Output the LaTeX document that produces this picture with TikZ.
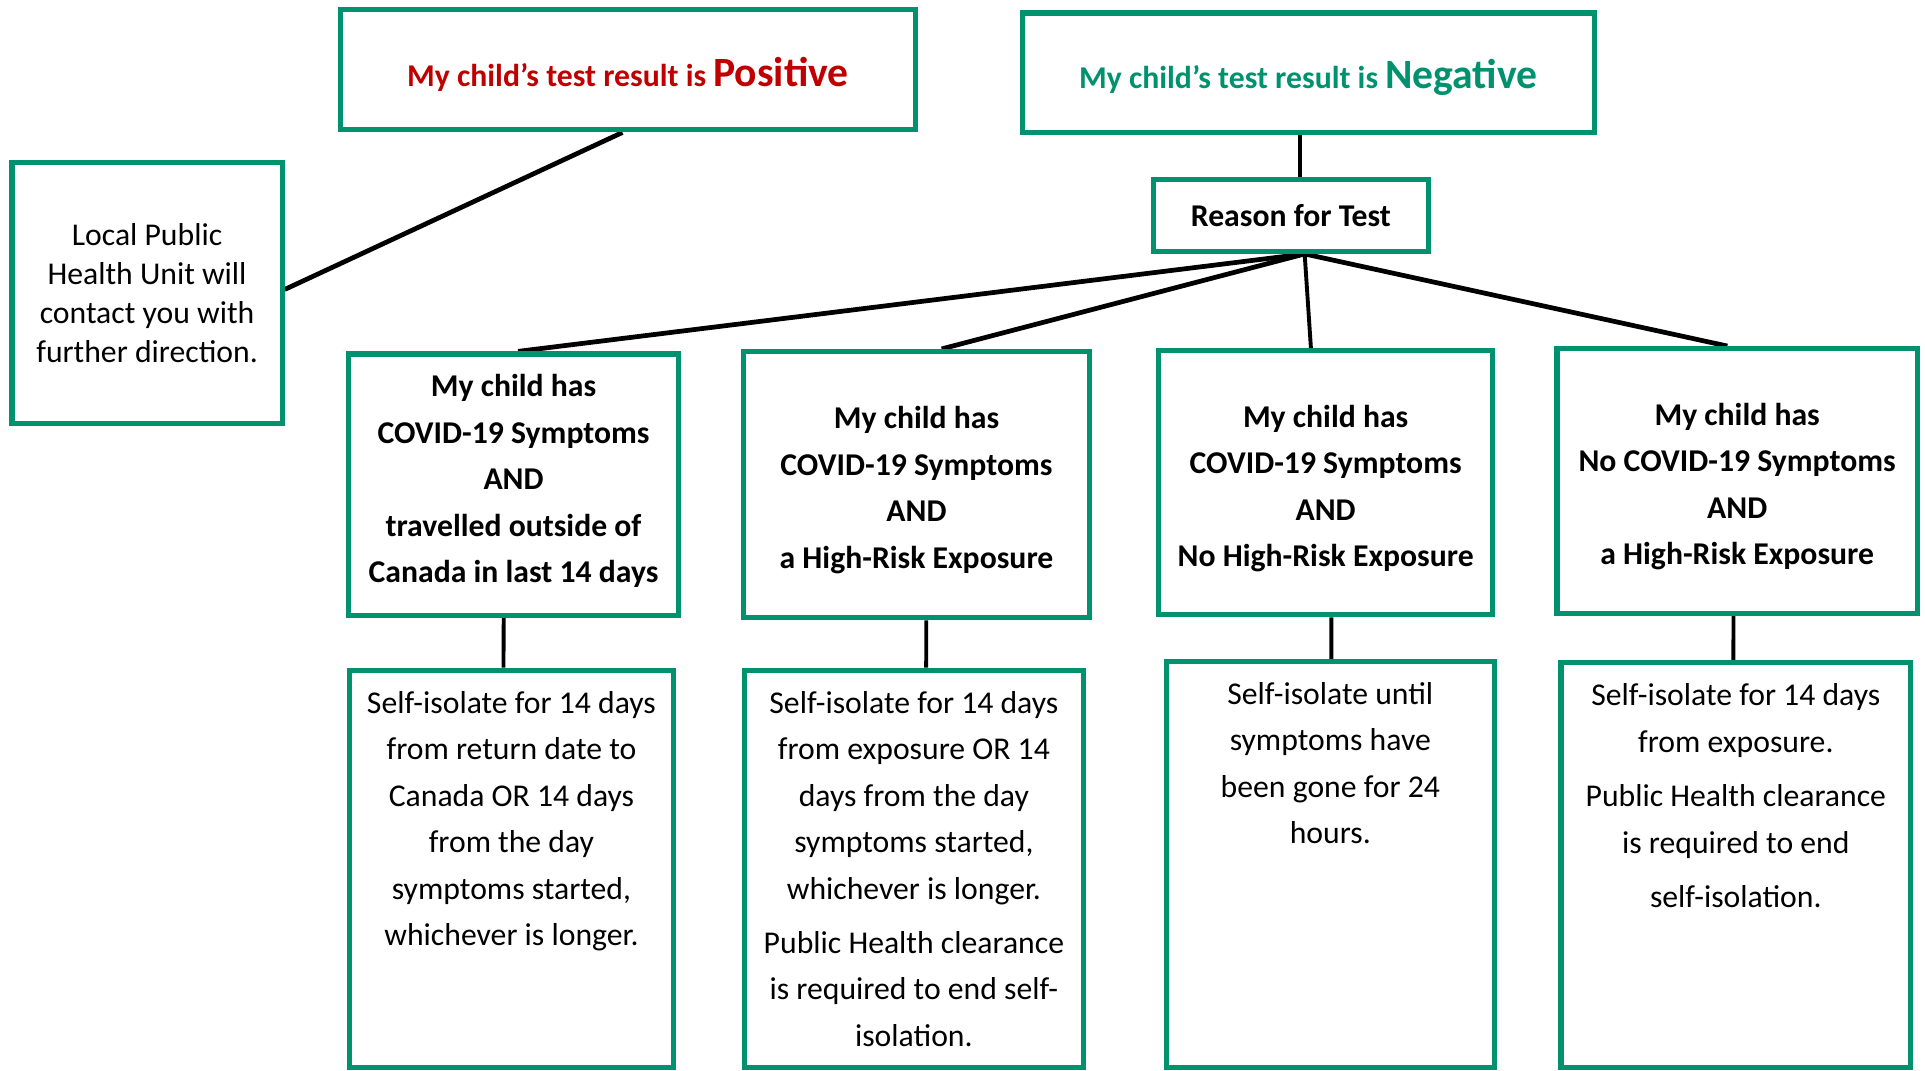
\documentclass[tikz,border=0pt]{standalone}
\usepackage{fontspec}
\setmainfont{Carlito}
\usetikzlibrary{calc,backgrounds}
\definecolor{boxgreen}{RGB}{0,146,110}
\definecolor{posred}{RGB}{192,0,0}
\newcommand{\boxtext}[4][0.70cm]{\parbox[c][#3][t]{#2}{\centering\rule{0pt}{#1}#4}}
\newcommand{\bigword}[1]{{\fontsize{19.3}{23}\selectfont #1}}

\begin{document}
\begin{tikzpicture}[x=0.02cm, y=-0.02cm,
    box/.style={draw=boxgreen, line width=2.4pt, rectangle, align=center,
      font=\fontsize{14.7}{21.55}\selectfont},
    headbox/.style={box, font=\fontsize{14.7}{21.55}\selectfont\bfseries},
    titlebox/.style={headbox, text height=0.63cm},
    casebox/.style={headbox, inner sep=0pt},
    resbox/.style={box, inner sep=0pt},
    link/.style={line width=2.2pt},
    stem/.style={line width=1.8pt}]
  \useasboundingbox (0,0) rectangle (1568,872);
  \draw
    (511.5,56.8) node[titlebox, text=posred, minimum width=9.37cm, minimum height=1.96cm] (pos)
      {My child’s test result is \bigword{Positive}}
    (1065.7,59.4) node[titlebox, text=boxgreen, minimum width=9.32cm, minimum height=1.95cm] (neg)
      {My child’s test result is \bigword{Negative}}
    (1051.5,175.5) node[headbox, minimum width=4.47cm, minimum height=1.17cm] (reason) {Reason for Test}
    (119.8,238.8) node[box, font=\fontsize{14.7}{18.1}\selectfont, minimum width=4.40cm, minimum height=4.26cm] (local)
      {Local Public\\ Health Unit will\\ contact you with\\ further direction.}
    (418.3,394.8) node[casebox] (c1)
      {\boxtext{5.38cm}{4.26cm}{My child has\\ COVID-19 Symptoms\\ AND\\ travelled outside of\\ Canada in last 14 days}}
    (746.5,394.8) node[casebox] (c2)
      {\boxtext[1.26cm]{5.65cm}{4.34cm}{My child has\\ COVID-19 Symptoms\\ AND\\ a High-Risk Exposure}}
    (1079.8,393.2) node[casebox] (c3)
      {\boxtext[1.25cm]{5.45cm}{4.30cm}{My child has\\ COVID-19 Symptoms\\ AND\\ No High-Risk Exposure}}
    (1415,391.7) node[casebox] (c4)
      {\boxtext[1.25cm]{5.87cm}{4.31cm}{My child has\\ No COVID-19 Symptoms\\ AND\\ a High-Risk Exposure}}
    (416.6,707.8) node[resbox] (r1)
      {\boxtext{5.27cm}{6.48cm}{Self-isolate for 14 days\\ from return date to\\ Canada OR 14 days\\ from the day\\ symptoms started,\\ whichever is longer.}}
    (744.4,707.8) node[resbox] (r2)
      {\boxtext{5.53cm}{6.48cm}{Self-isolate for 14 days\\ from exposure OR 14\\ days from the day\\ symptoms started,\\ whichever is longer.\\[3.7pt] Public Health clearance\\ is required to end self-\\ isolation.}}
    (1083.6,704.3) node[resbox] (r3)
      {\boxtext{5.34cm}{6.62cm}{Self-isolate until\\ symptoms have\\ been gone for 24\\ hours.}}
    (1413.9,704.8) node[resbox] (r4)
      {\boxtext{5.70cm}{6.60cm}{Self-isolate for 14 days\\ from exposure.\\[3.7pt] Public Health clearance\\ is required to end\\[3.7pt] self-isolation.}};
  \begin{scope}[on background layer]
    \draw[link] ($(pos.south)+(-4.5,0)$) to ($(local.east)+(0,-3)$);
    \draw[stem] ($(neg.south)+(-7,0)$) to ($(reason.north)+(7.2,0)$);
    \draw[link] ($(reason.south)+(11.2,0)$) to ($(c1.north)+(3.7,0)$);
    \draw[link] ($(reason.south)+(11.2,0)$) to ($(c2.north)+(20.5,0)$);
    \draw[stem] ($(reason.south)+(11.2,0)$) to ($(c3.north)+(-12,0)$);
    \draw[link] ($(reason.south)+(11.2,0)$) to ($(c4.north)+(-8,0)$);
    \draw[stem] ($(c1.south)+(-8,0)$) to ($(r1.north)+(-6.5,0)$);
    \draw[stem] ($(c2.south)+(8,0)$) to ($(r2.north)+(10,0)$);
    \draw[stem] ($(c3.south)+(4.7,0)$) to ($(r3.north)+(0.8,0)$);
    \draw[stem] ($(c4.south)+(-3,0)$) to ($(r4.north)+(-2,0)$);
  \end{scope}
\end{tikzpicture}
\end{document}
